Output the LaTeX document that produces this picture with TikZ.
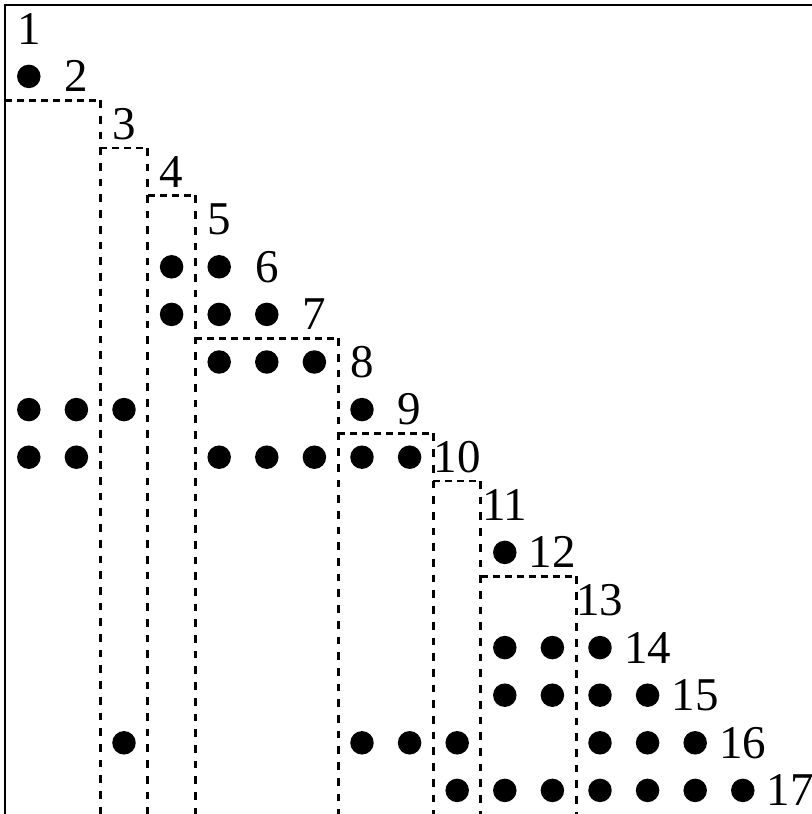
\documentclass[tikz,border=0pt]{standalone}
\usepackage{fontspec}
\setmainfont{Liberation Serif}
\begin{document}
\begin{tikzpicture}[x=47.6pt, y=-47.6pt,
  dot/.style={circle, fill=black, inner sep=0pt, minimum size=23.5pt},
  lbl/.style={inner sep=0pt, font=\fontsize{47}{47}\selectfont},
  hdash/.style={line width=2.6pt, dash pattern=on 7pt off 5pt},
  vdash/.style={line width=3pt, dash pattern=on 7.7pt off 8pt},
  framestyle/.style={line width=2.4pt}]
\clip (-0.105,-0.105) rectangle (16.954,16.996);
% frame (right and bottom sides fall outside the picture)
\draw[framestyle] (0,17.6) -- (0,0) -- (17.6,0);
% supernode outlines
\foreach \a/\b in {0/2, 2/3, 3/4, 4/7, 7/9, 9/10, 10/12} {
  \draw[hdash] (\a,\b) -- (\b,\b);
  \draw[vdash] (\b,\b) -- (\b,17.3);
}
% off-diagonal nonzeros
\foreach \r/\cs in {2/{1}, 6/{4,5}, 7/{4,5,6}, 8/{5,6,7}, 9/{1,2,3,8},
    10/{1,2,5,6,7,8,9}, 12/{11}, 14/{11,12,13}, 15/{11,12,13,14},
    16/{3,8,9,10,13,14,15}, 17/{10,11,12,13,14,15,16}} {
  \foreach \c in \cs {
    \node[dot] (d\r-\c) at (\c-0.5,\r-0.5) {};
  }
}
% diagonal labels
\foreach \k in {1,...,17} {
  \node[lbl] (n\k) at (\k-0.5,\k-0.5) {\k};
}
\end{tikzpicture}
\end{document}
